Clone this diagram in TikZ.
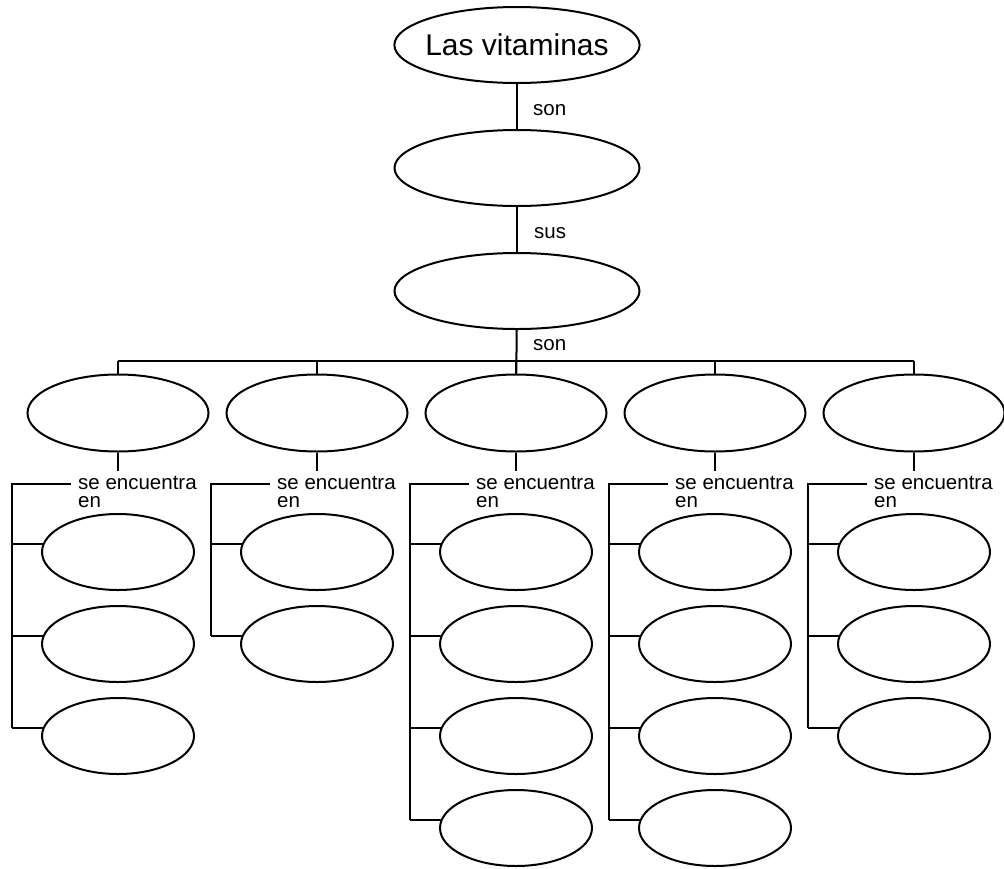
\documentclass[tikz,border=0pt]{standalone}
\usepackage{fontspec}
\setmainfont{Liberation Sans}
\usetikzlibrary{shapes.geometric}
\usetikzlibrary{positioning}

\tikzset{
    concept/.style = {ellipse, draw, line width = 2pt, minimum width = 245pt, minimum height = 76pt, inner sep = 0pt},
    kind/.style = {concept, minimum width = 181pt, minimum height = 77pt},
    source/.style = {concept, minimum width = 152pt, minimum height = 76pt},
    linkword/.style = {font = \fontsize{20.5}{18}\selectfont, inner sep = 0pt, align = left},
    link/.style = {line width = 2pt},
}

\begin{document}
\begin{tikzpicture}[x = 1pt, y = -1pt]
    \useasboundingbox (0,0) rectangle (1004,868);

    % main chain
    \node (vit) at (517,45) [concept, inner xsep = -5pt, font = \fontsize{30}{36}\selectfont] {Las vitaminas};
    \node (def) at (517,168) [concept] {};
    \node (char) at (517,291) [concept] {};

    \node (son1) at (533,110) [linkword, anchor = west] {son};
    \node (sus) at (534,233) [linkword, anchor = west] {sus};
    \node (son2) at (533,345) [linkword, anchor = west] {son};

    \draw[link] (vit) -- (def);
    \draw[link] (def) -- (char);

    \coordinate (bus) at (517,361);

    \foreach \col/\cx/\n in {1/118/3, 2/317/2, 3/516/4, 4/715/4, 5/914/3}{
        \node (t\col) at (\cx,413) [kind] {};
        \node (l\col) at (\cx-40,476) [linkword, anchor = north west] {se encuentra\\en};
        \coordinate (h\col) at (\cx-47,484);
        \coordinate (s\col) at (\cx-106,484);

        \draw[link] (t\col.north |- bus) -- (t\col);
        \draw[link] (t\col) -- (t\col.south |- 0,471);

        \foreach \j in {1,...,\n}{
            \node (c\col-\j) at (\cx,{552+92*(\j-1)}) [source] {};
            \draw[link] (s\col |- c\col-\j.174) -- (c\col-\j.174);
        }
        \draw[link] (h\col) -- (s\col) -- (s\col |- c\col-\n.174);
    }

    \draw[link] (char) -- (t3);
    \draw[link] (t1.north |- bus) -- (t5.north |- bus);
\end{tikzpicture}
\end{document}
